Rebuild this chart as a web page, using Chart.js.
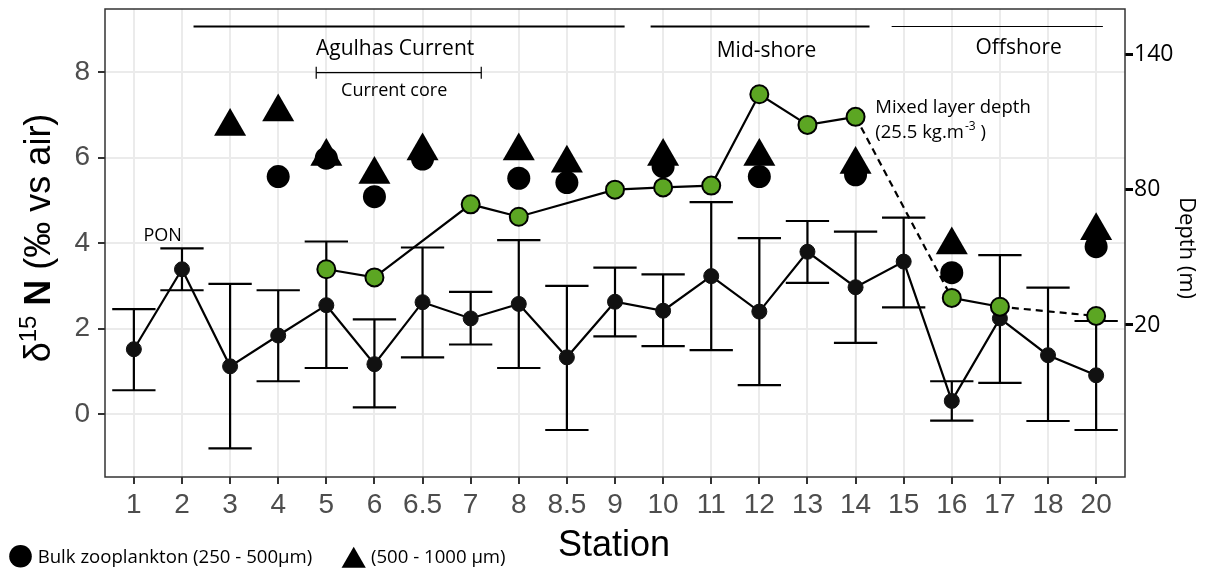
<!DOCTYPE html>
<html>
<head>
<meta charset="utf-8">
<script src="https://cdn.jsdelivr.net/npm/chart.js@4.4.1/dist/chart.umd.min.js"></script>
<style>
  html, body { margin: 0; padding: 0; background: #fff; }
  #wrap { width: 1206px; height: 570px; }
</style>
</head>
<body>
<div id="wrap"><canvas id="chart" width="1206" height="570"></canvas></div>
<script>
// stations along the transect (discrete x axis)
const stations = ['1','2','3','4','5','6','6.5','7','8','8.5','9','10','11','12','13','14','15','16','17','18','20'];

// PON d15N: mean and error bar limits (left axis)
const ponMean = [1.52, 3.39, 1.12, 1.84, 2.55, 1.17, 2.62, 2.24, 2.58, 1.33, 2.63, 2.42, 3.23, 2.40, 3.80, 2.97, 3.57, 0.31, 2.24, 1.38, 0.91];
const ponHigh = [2.46, 3.88, 3.05, 2.90, 4.04, 2.22, 3.90, 2.86, 4.07, 3.00, 3.43, 3.27, 4.96, 4.12, 4.52, 4.27, 4.60, 0.77, 3.72, 2.96, 2.18];
const ponLow  = [0.56, 2.90, -0.80, 0.77, 1.08, 0.16, 1.33, 1.63, 1.08, -0.37, 1.82, 1.59, 1.50, 0.68, 3.07, 1.67, 2.50, -0.15, 0.73, -0.16, -0.37];

// bulk zooplankton 250 - 500 µm (circles)
const zooSmall = [null, null, null, 5.56, 5.99, 5.09, 5.97, null, 5.52, 5.42, null, 5.79, null, 5.56, null, 5.60, null, 3.31, null, null, 3.92];
// zooplankton 500 - 1000 µm (triangles)
const zooLarge = [null, null, 6.73, 7.07, 6.03, 5.61, 6.16, null, 6.16, 5.87, null, 6.03, null, 6.03, null, 5.84, null, 3.96, null, null, 4.29];

// mixed layer depth, m (right axis)
const mld = [null, null, null, null, 44.7, 41.1, null, 73.5, 68.0, null, 80.0, 81.0, 81.8, 122.3, 108.7, 112.3, null, 32.0, 28.1, null, 24.0];
// stations with no depth profile: line is dashed across them
const mldDashedOver = ['15', '18'];

// axis ticks
const leftTicks = [0, 2, 4, 6, 8];
const leftGrid = [-1, 0, 1, 2, 3, 4, 5, 6, 7, 8, 9];
const depthTicks = [20, 80, 140];

const green = '#5ca623';
const sans = "'Liberation Sans', Arial, sans-serif";
const myriad = "'Open Sans', sans-serif";

// dashed where the gap covers one of the stations without a profile
function dashedSegment(ctx) {
  for (let k = ctx.p0DataIndex; k < ctx.p1DataIndex; k++) {
    if (mld[k] === null && mldDashedOver.includes(stations[k])) return [7, 5];
  }
  return undefined;
}

// error bars for PON, drawn under the datasets
const errorBars = {
  id: 'errorBars',
  beforeDatasetsDraw(chart) {
    const { ctx, scales: { x, y } } = chart;
    const half = (x.getPixelForValue(1) - x.getPixelForValue(0)) * 0.45;
    ctx.save();
    ctx.strokeStyle = '#000';
    ctx.lineWidth = 2.2;
    stations.forEach((s, i) => {
      const px = x.getPixelForValue(i);
      const yh = y.getPixelForValue(ponHigh[i]);
      const yl = y.getPixelForValue(ponLow[i]);
      ctx.beginPath();
      ctx.moveTo(px, yh); ctx.lineTo(px, yl);
      ctx.moveTo(px - half, yh); ctx.lineTo(px + half, yh);
      ctx.moveTo(px - half, yl); ctx.lineTo(px + half, yl);
      ctx.stroke();
    });
    ctx.restore();
  }
};

// panel border, titles, region labels, legend
const decorations = {
  id: 'decorations',
  afterDatasetsDraw(chart) {
    const { ctx, chartArea: a, scales: { x, y } } = chart;
    ctx.save();
    ctx.strokeStyle = '#333';
    ctx.lineWidth = 1.5;
    ctx.strokeRect(a.left, a.top, a.right - a.left, a.bottom - a.top);

    // region bars along the top
    const bar = (x0, x1, yv, w) => {
      ctx.lineWidth = w;
      ctx.strokeStyle = '#000';
      ctx.beginPath();
      ctx.moveTo(x.getPixelForValue(x0), y.getPixelForValue(yv));
      ctx.lineTo(x.getPixelForValue(x1), y.getPixelForValue(yv));
      ctx.stroke();
    };
    bar(1.24, 10.2, 9.07, 2);
    bar(10.74, 15.29, 9.07, 2);
    bar(15.75, 20.14, 9.07, 1.2);
    bar(3.79, 7.22, 7.99, 1.2);
    [3.79, 7.22].forEach(xv => {
      const px = x.getPixelForValue(xv), py = y.getPixelForValue(7.99);
      ctx.beginPath(); ctx.moveTo(px, py - 6); ctx.lineTo(px, py + 6); ctx.stroke();
    });

    ctx.fillStyle = '#000';
    ctx.textBaseline = 'alphabetic';
    ctx.textAlign = 'center';
    ctx.font = `21px ${myriad}`;
    ctx.fillText('Agulhas Current', x.getPixelForValue(5.43), y.getPixelForValue(8.40));
    ctx.fillText('Mid-shore', x.getPixelForValue(13.15), y.getPixelForValue(8.36));
    ctx.fillText('Offshore', x.getPixelForValue(18.39), y.getPixelForValue(8.42));
    ctx.font = `18px ${myriad}`;
    ctx.fillText('Current core', x.getPixelForValue(5.41), y.getPixelForValue(7.44));
    ctx.fillText('PON', x.getPixelForValue(0.60), y.getPixelForValue(4.05));

    ctx.textAlign = 'left';
    const mx = x.getPixelForValue(15.41);
    ctx.font = `18.5px ${myriad}`;
    ctx.fillText('Mixed layer depth', mx, y.getPixelForValue(7.04));
    const l2 = y.getPixelForValue(6.46);
    let tx = mx;
    ctx.fillText('(25.5 kg.m', tx, l2);
    tx += ctx.measureText('(25.5 kg.m').width;
    ctx.font = `12px ${myriad}`;
    ctx.fillText('-3', tx + 1, l2 - 8);
    tx += ctx.measureText('-3').width + 1;
    ctx.font = `18.5px ${myriad}`;
    ctx.fillText(' )', tx, l2);
    ctx.restore();
  },
  afterDraw(chart) {
    const { ctx } = chart;
    ctx.save();
    ctx.fillStyle = '#000';

    // x title
    ctx.textAlign = 'center';
    ctx.textBaseline = 'alphabetic';
    ctx.font = `36px ${sans}`;
    ctx.fillText('Station', 614, 556);

    // left title: delta 15 N (‰ vs air), rotated, N in bold
    ctx.save();
    ctx.translate(50, 238);
    ctx.rotate(-Math.PI / 2);
    ctx.textAlign = 'left';
    const parts = [
      ['\u03b4', `36px ${sans}`, 0],
      ['15', `24px ${sans}`, -14],
      [' ', `36px ${sans}`, 0],
      ['N', `bold 36px ${sans}`, 0],
      [' (\u2030 vs air)', `36px ${sans}`, 0]
    ];
    let total = 0;
    parts.forEach(p => { ctx.font = p[1]; total += ctx.measureText(p[0]).width; });
    let t = -total / 2;
    parts.forEach(p => {
      ctx.font = p[1];
      ctx.fillText(p[0], t, p[2]);
      t += ctx.measureText(p[0]).width;
    });
    ctx.restore();

    // right title
    ctx.save();
    ctx.translate(1180, 248);
    ctx.rotate(Math.PI / 2);
    ctx.textAlign = 'center';
    ctx.font = `22px ${myriad}`;
    ctx.fillText('Depth (m)', 0, 0);
    ctx.restore();

    // legend
    ctx.beginPath();
    ctx.arc(20.5, 556.3, 11.3, 0, Math.PI * 2);
    ctx.fill();
    ctx.beginPath();
    ctx.moveTo(353.7, 546.7);
    ctx.lineTo(365.8, 567.7);
    ctx.lineTo(341.6, 567.7);
    ctx.closePath();
    ctx.fill();
    ctx.textAlign = 'left';
    ctx.font = `18.6px ${myriad}`;
    ctx.fillText('Bulk zooplankton (250 - 500\u00b5m)', 37.7, 563);
    ctx.fillText('(500 - 1000 \u00b5m)', 371, 563);
    ctx.restore();
  }
};

const xy = arr => arr.map((v, i) => ({ x: i, y: v }));

new Chart(document.getElementById('chart'), {
  type: 'line',
  data: {
    datasets: [
      {
        label: 'Mixed layer depth',
        data: xy(mld),
        yAxisID: 'y2',
        spanGaps: true,
        borderColor: '#000',
        borderWidth: 2.2,
        pointRadius: 9,
        pointBorderWidth: 2,
        pointBorderColor: '#000',
        pointBackgroundColor: green,
        segment: { borderDash: dashedSegment }
      },
      {
        label: 'Bulk zooplankton (250 - 500µm)',
        data: xy(zooSmall),
        showLine: false,
        pointStyle: 'circle',
        pointRadius: 11.5,
        pointBorderWidth: 0,
        pointBackgroundColor: '#000'
      },
      {
        label: '(500 - 1000 µm)',
        data: xy(zooLarge),
        showLine: false,
        pointStyle: 'triangle',
        pointRadius: 18.5,
        pointBorderWidth: 0,
        pointBackgroundColor: '#000'
      },
      {
        label: 'PON',
        data: xy(ponMean),
        borderColor: '#000',
        borderWidth: 2.2,
        pointRadius: 7.5,
        pointBorderWidth: 1,
        pointBorderColor: '#111',
        pointBackgroundColor: '#111'
      }
    ]
  },
  options: {
    responsive: false,
    devicePixelRatio: 1,
    animation: false,
    layout: { autoPadding: false, padding: { top: 9, left: 0, right: 0, bottom: 0 } },
    plugins: { legend: { display: false }, tooltip: { enabled: false } },
    scales: {
      x: {
        type: 'linear',
        min: -0.6,
        max: 20.6,
        afterBuildTicks: s => { s.ticks = stations.map((_, i) => ({ value: i })); },
        afterFit: s => { s.height = 93; },
        ticks: {
          callback: v => stations[v],
          autoSkip: false,
          maxRotation: 0,
          color: '#4d4d4d',
          font: { family: sans, size: 28 },
          padding: 4
        },
        grid: { color: '#ebebeb', lineWidth: 2, tickColor: '#333', tickLength: 7, tickWidth: 2 },
        border: { display: false }
      },
      y: {
        type: 'linear',
        position: 'left',
        min: -1.47,
        max: 9.48,
        afterBuildTicks: s => { s.ticks = leftGrid.map(v => ({ value: v })); },
        afterFit: s => { s.width = 105; s.paddingTop = 0; s.paddingBottom = 0; },
        ticks: {
          callback: v => leftTicks.includes(v) ? String(v) : null,
          color: '#4d4d4d',
          font: { family: sans, size: 28 },
          padding: 8
        },
        grid: {
          color: '#ebebeb',
          lineWidth: c => leftTicks.includes(c.tick.value) ? 2 : 1,
          tickColor: c => leftTicks.includes(c.tick.value) ? '#333' : 'rgba(0,0,0,0)',
          tickLength: 7,
          tickWidth: 2
        },
        border: { display: false }
      },
      y2: {
        type: 'linear',
        position: 'right',
        min: -47.4,
        max: 160.1,
        afterBuildTicks: s => { s.ticks = depthTicks.map(v => ({ value: v })); },
        afterFit: s => { s.width = 81; s.paddingTop = 0; s.paddingBottom = 0; },
        ticks: {
          color: '#000',
          font: { family: myriad, size: 23 },
          padding: 1
        },
        grid: { drawOnChartArea: false, tickColor: '#000', tickLength: 8, tickWidth: 3 },
        border: { display: false }
      }
    }
  },
  plugins: [errorBars, decorations]
});
</script>
</body>
</html>
